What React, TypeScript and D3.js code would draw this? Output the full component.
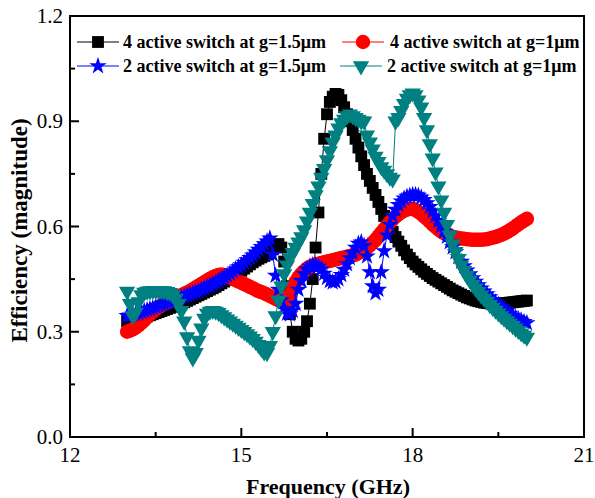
import React, { useEffect, useRef } from 'react';
import * as d3 from 'd3';

// frequency grid (GHz), 0.05 GHz step
const freq: number[] = d3.range(141).map((i) => +(13 + i * 0.05).toFixed(2));

const switch4g15 = [
  0.330, 0.332, 0.334, 0.336, 0.338, 0.340, 0.342, 0.344, 0.347, 0.350, 0.353, 0.356, 0.359, 0.362, 0.365, 0.368, 0.371, 0.374, 0.377, 0.380,
  0.384, 0.388, 0.392, 0.396, 0.400, 0.404, 0.408, 0.412, 0.416, 0.420, 0.424, 0.428, 0.433, 0.438, 0.443, 0.448, 0.453, 0.458, 0.463, 0.468,
  0.474, 0.480, 0.486, 0.492, 0.498, 0.503, 0.508, 0.512, 0.516, 0.520, 0.525, 0.535, 0.545, 0.550, 0.540, 0.500, 0.430, 0.350, 0.300, 0.280,
  0.275, 0.280, 0.300, 0.330, 0.380, 0.450, 0.540, 0.640, 0.750, 0.850, 0.920, 0.955, 0.970, 0.978, 0.975, 0.960, 0.940, 0.920, 0.900, 0.875,
  0.850, 0.825, 0.800, 0.775, 0.750, 0.730, 0.710, 0.690, 0.670, 0.650, 0.630, 0.615, 0.600, 0.585, 0.570, 0.557, 0.545, 0.532, 0.520, 0.510,
  0.500, 0.492, 0.485, 0.478, 0.471, 0.465, 0.459, 0.453, 0.448, 0.443, 0.438, 0.433, 0.428, 0.423, 0.418, 0.414, 0.410, 0.406, 0.402, 0.398,
  0.395, 0.392, 0.389, 0.387, 0.385, 0.383, 0.382, 0.381, 0.380, 0.380, 0.380, 0.380, 0.381, 0.382, 0.383, 0.384, 0.385, 0.386, 0.387, 0.388,
  0.389,
];

const switch4g1 = [
  0.300, 0.303, 0.307, 0.312, 0.318, 0.325, 0.333, 0.342, 0.350, 0.357, 0.364, 0.370, 0.375, 0.380, 0.384, 0.388, 0.392, 0.396, 0.400, 0.404,
  0.408, 0.412, 0.416, 0.421, 0.426, 0.431, 0.436, 0.441, 0.446, 0.451, 0.455, 0.459, 0.462, 0.463, 0.462, 0.459, 0.455, 0.451, 0.447, 0.443,
  0.440, 0.436, 0.432, 0.428, 0.424, 0.420, 0.416, 0.413, 0.410, 0.406, 0.402, 0.398, 0.394, 0.390, 0.388, 0.387, 0.390, 0.405, 0.425, 0.442,
  0.455, 0.465, 0.473, 0.480, 0.485, 0.489, 0.492, 0.494, 0.496, 0.498, 0.500, 0.502, 0.504, 0.506, 0.508, 0.510, 0.512, 0.514, 0.516, 0.518,
  0.520, 0.524, 0.528, 0.533, 0.539, 0.546, 0.554, 0.562, 0.572, 0.582, 0.592, 0.602, 0.612, 0.620, 0.628, 0.635, 0.640, 0.645, 0.648, 0.650,
  0.650, 0.647, 0.642, 0.636, 0.629, 0.622, 0.614, 0.606, 0.599, 0.592, 0.586, 0.581, 0.577, 0.574, 0.571, 0.569, 0.567, 0.566, 0.565, 0.564,
  0.563, 0.562, 0.562, 0.562, 0.562, 0.563, 0.564, 0.566, 0.568, 0.570, 0.573, 0.576, 0.580, 0.584, 0.589, 0.594, 0.600, 0.606, 0.612, 0.617,
  0.622,
];

const switch2g15 = [
  0.345, 0.347, 0.349, 0.351, 0.353, 0.356, 0.359, 0.362, 0.365, 0.368, 0.371, 0.374, 0.377, 0.380, 0.383, 0.386, 0.389, 0.392, 0.395, 0.398,
  0.401, 0.404, 0.407, 0.410, 0.413, 0.416, 0.420, 0.424, 0.428, 0.432, 0.436, 0.440, 0.445, 0.450, 0.455, 0.460, 0.466, 0.472, 0.478, 0.484,
  0.490, 0.497, 0.504, 0.511, 0.518, 0.526, 0.534, 0.542, 0.550, 0.558, 0.566, 0.520, 0.460, 0.420, 0.390, 0.365, 0.352, 0.350, 0.360, 0.380,
  0.420, 0.445, 0.465, 0.478, 0.486, 0.490, 0.490, 0.486, 0.478, 0.466, 0.454, 0.445, 0.441, 0.443, 0.450, 0.462, 0.477, 0.493, 0.510, 0.525,
  0.540, 0.551, 0.555, 0.545, 0.515, 0.470, 0.430, 0.410, 0.420, 0.470, 0.530, 0.575, 0.605, 0.630, 0.648, 0.662, 0.672, 0.680, 0.685, 0.688,
  0.690, 0.690, 0.688, 0.683, 0.676, 0.667, 0.656, 0.644, 0.630, 0.616, 0.601, 0.586, 0.571, 0.556, 0.541, 0.527, 0.513, 0.500, 0.487, 0.475,
  0.464, 0.453, 0.443, 0.433, 0.424, 0.415, 0.407, 0.399, 0.391, 0.384, 0.377, 0.370, 0.364, 0.358, 0.352, 0.346, 0.340, 0.336, 0.332, 0.328,
  0.325,
];

const switch2g1 = [
  0.415, 0.380, 0.345, 0.355, 0.385, 0.405, 0.412, 0.415, 0.416, 0.417, 0.417, 0.417, 0.417, 0.416, 0.414, 0.411, 0.405, 0.395, 0.380, 0.360,
  0.330, 0.285, 0.245, 0.225, 0.240, 0.275, 0.310, 0.338, 0.352, 0.358, 0.360, 0.358, 0.354, 0.348, 0.342, 0.336, 0.330, 0.324, 0.318, 0.312,
  0.306, 0.300, 0.294, 0.287, 0.280, 0.272, 0.263, 0.252, 0.242, 0.240, 0.260, 0.300, 0.345, 0.390, 0.430, 0.465, 0.490, 0.510, 0.525, 0.540,
  0.555, 0.570, 0.590, 0.615, 0.640, 0.665, 0.690, 0.715, 0.740, 0.765, 0.790, 0.815, 0.840, 0.860, 0.880, 0.895, 0.905, 0.915, 0.920, 0.915,
  0.910, 0.905, 0.900, 0.900, 0.860, 0.840, 0.820, 0.800, 0.785, 0.770, 0.760, 0.750, 0.740, 0.735, 0.900, 0.910, 0.930, 0.950, 0.965, 0.975,
  0.980, 0.975, 0.960, 0.940, 0.910, 0.875, 0.835, 0.795, 0.755, 0.715, 0.675, 0.640, 0.605, 0.575, 0.550, 0.528, 0.508, 0.490, 0.474, 0.460,
  0.447, 0.435, 0.424, 0.414, 0.404, 0.395, 0.386, 0.377, 0.369, 0.361, 0.353, 0.345, 0.338, 0.331, 0.324, 0.317, 0.310, 0.303, 0.296, 0.290,
  0.284,
];

const seriesNames = [
  '4 active switch at g=1.5μm',
  '4 active switch at g=1μm',
  '2 active switch at g=1.5μm',
  '2 active switch at g=1μm',
];
const seriesColors = ['#000000', '#ff0000', '#0000ff', '#008080'];

const xTicks = [12, 15, 18, 21];
const xMinorTicks = [13.5, 16.5, 19.5];
const yTicks = [0.0, 0.3, 0.6, 0.9, 1.2];
const yMinorTicks = [0.15, 0.45, 0.75, 1.05];

const W = 595;
const H = 498;
const margin = { top: 16, right: 11, bottom: 61, left: 70 };
const serif = '"Liberation Serif", "Times New Roman", serif';

function EfficiencyChart() {
  const ref = useRef<SVGSVGElement | null>(null);

  useEffect(() => {
    const svg = d3.select(ref.current);
    svg.selectAll('*').remove();

    const x = d3.scaleLinear().domain([12, 21]).range([margin.left, W - margin.right]);
    const y = d3.scaleLinear().domain([0, 1.2]).range([H - margin.bottom, margin.top]);

    const symbols = [
      d3.symbol().type(d3.symbolSquare).size(140),
      d3.symbol().type(d3.symbolCircle).size(165),
      d3.symbol().type(d3.symbolStar).size(95),
      d3.symbol().type(d3.symbolTriangle).size(115),
    ];
    const rot = [0, 0, 0, 180];
    const allSeries = [switch4g15, switch4g1, switch2g15, switch2g1];

    const line = d3
      .line<number>()
      .x((_, i) => x(freq[i]))
      .y((d) => y(d));

    allSeries.forEach((vals, s) => {
      const g = svg.append('g');
      g.append('path')
        .attr('d', line(vals))
        .attr('fill', 'none')
        .attr('stroke', seriesColors[s])
        .attr('stroke-width', 1);
      g.selectAll('path.m')
        .data(vals)
        .enter()
        .append('path')
        .attr('class', 'm')
        .attr('d', symbols[s]() as string)
        .attr('transform', (d, i) => `translate(${x(freq[i])},${y(d)}) rotate(${rot[s]})`)
        .attr('fill', seriesColors[s]);
    });

    // frame
    const x0 = x(12), x1 = x(21), y0 = y(0), y1 = y(1.2);
    svg.append('rect')
      .attr('x', x0).attr('y', y1)
      .attr('width', x1 - x0).attr('height', y0 - y1)
      .attr('fill', 'none').attr('stroke', '#000').attr('stroke-width', 2);

    // x ticks (inward)
    svg.selectAll('line.xt').data(xTicks.slice(1, -1)).enter().append('line')
      .attr('x1', (d) => x(d)).attr('x2', (d) => x(d))
      .attr('y1', y0).attr('y2', y0 - 9)
      .attr('stroke', '#000').attr('stroke-width', 2);
    svg.selectAll('line.xm').data(xMinorTicks).enter().append('line')
      .attr('x1', (d) => x(d)).attr('x2', (d) => x(d))
      .attr('y1', y0).attr('y2', y0 - 5)
      .attr('stroke', '#000').attr('stroke-width', 2);
    svg.selectAll('text.xl').data(xTicks).enter().append('text')
      .attr('x', (d) => x(d)).attr('y', 462)
      .attr('text-anchor', 'middle')
      .style('font-family', serif).style('font-size', '21px')
      .text((d) => d3.format('d')(d));

    // y ticks (inward)
    svg.selectAll('line.yt').data(yTicks.slice(1, -1)).enter().append('line')
      .attr('x1', x0).attr('x2', x0 + 9)
      .attr('y1', (d) => y(d)).attr('y2', (d) => y(d))
      .attr('stroke', '#000').attr('stroke-width', 2);
    svg.selectAll('line.ym').data(yMinorTicks).enter().append('line')
      .attr('x1', x0).attr('x2', x0 + 5)
      .attr('y1', (d) => y(d)).attr('y2', (d) => y(d))
      .attr('stroke', '#000').attr('stroke-width', 2);
    svg.selectAll('text.yl').data(yTicks).enter().append('text')
      .attr('x', 63).attr('y', (d) => y(d) + 7)
      .attr('text-anchor', 'end')
      .style('font-family', serif).style('font-size', '21px')
      .text((d) => d3.format('.1f')(d));

    // axis titles
    svg.append('text')
      .attr('x', (x0 + x1) / 2 + 1).attr('y', 494)
      .attr('text-anchor', 'middle')
      .style('font-family', serif).style('font-size', '22px').style('font-weight', 'bold')
      .text('Frequency (GHz)');
    svg.append('text')
      .attr('transform', `translate(27,${(y0 + y1) / 2 + 4}) rotate(-90)`)
      .attr('text-anchor', 'middle')
      .style('font-family', serif).style('font-size', '23px').style('font-weight', 'bold')
      .text('Efficiency (magnitude)');

    // legend
    const legendPos = [
      { lx: 77, ty: 42, tx: 123 },
      { lx: 342, ty: 42, tx: 390 },
      { lx: 77, ty: 66, tx: 123 },
      { lx: 340, ty: 66, tx: 387 },
    ];
    seriesNames.forEach((name, s) => {
      const p = legendPos[s];
      const lg = svg.append('g');
      lg.append('line')
        .attr('x1', p.lx).attr('x2', p.lx + 42)
        .attr('y1', p.ty).attr('y2', p.ty)
        .attr('stroke', seriesColors[s]).attr('stroke-width', 1);
      lg.append('path')
        .attr('d', symbols[s]() as string)
        .attr('transform', `translate(${p.lx + 21},${p.ty}) rotate(${rot[s]})`)
        .attr('fill', seriesColors[s]);
      lg.append('text')
        .attr('x', p.tx).attr('y', p.ty + 6)
        .style('font-family', serif).style('font-size', '18px').style('font-weight', 'bold')
        .text(name);
    });
  });

  return (
    <svg
      ref={ref}
      width={W}
      height={H}
      style={{ position: 'absolute', left: 0, top: 0, background: 'white' }}
    />
  );
}

export default function App() {
  return <EfficiencyChart />;
}
